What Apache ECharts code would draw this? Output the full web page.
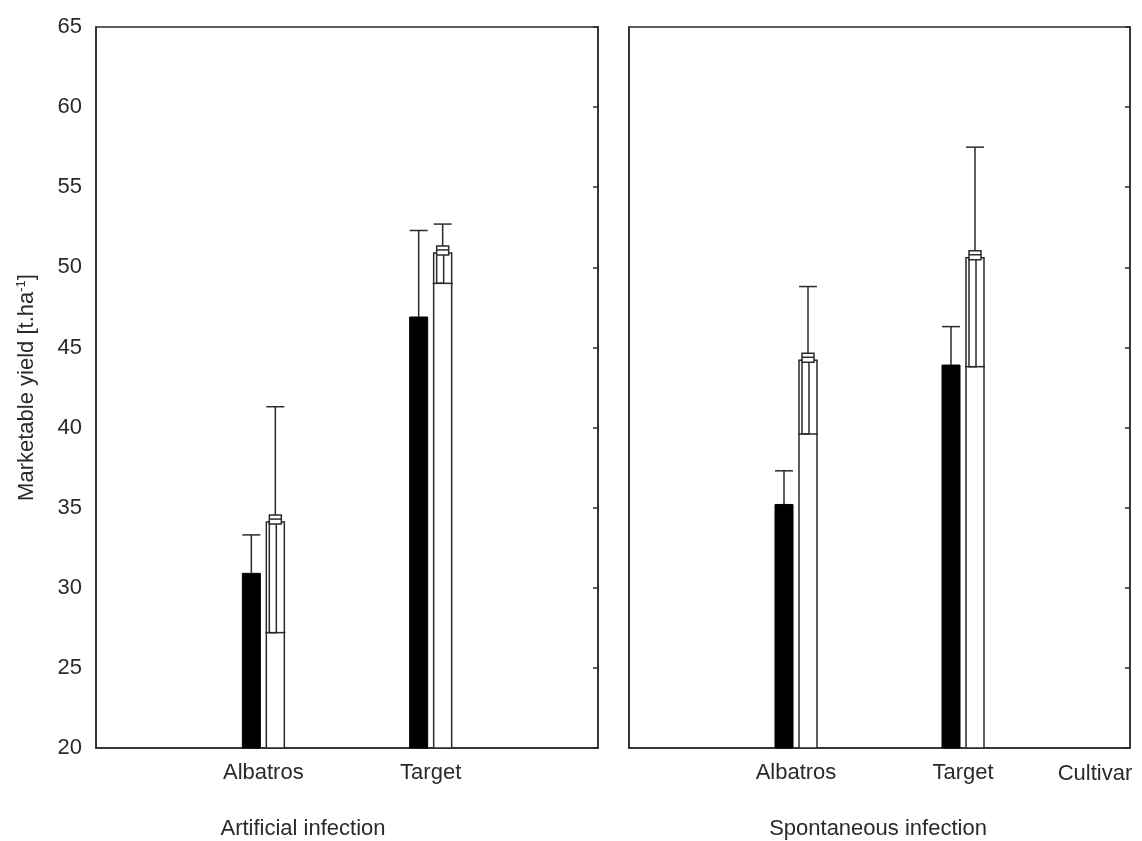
<!DOCTYPE html>
<html>
<head>
<meta charset="utf-8">
<script src="https://cdn.jsdelivr.net/npm/echarts@6/dist/echarts.min.js"></script>
<style>
  html, body { margin: 0; padding: 0; background: #fff; }
  #chart { width: 1142px; height: 841px; }
</style>
</head>
<body>
<div id="chart"></div>
<script>
// cultivars sit at x = 1 and x = 2 on a 0..3 axis in each panel
const cultivars = ['Albatros', 'Target']
const yTicks = [20, 25, 30, 35, 40, 45, 50, 55, 60, 65]

// Artificial infection
const artBlack = [30.9, 46.9]
const artBlackHigh = [33.3, 52.3]
const artWhite = [34.1, 50.9]
const artWhiteLow = [27.2, 49.0]
const artWhiteHigh = [41.3, 52.7]

// Spontaneous infection
const sponBlack = [35.2, 43.9]
const sponBlackHigh = [37.3, 46.3]
const sponWhite = [44.2, 50.6]
const sponWhiteLow = [39.6, 43.8]
const sponWhiteHigh = [48.8, 57.5]

const FONT = 'Liberation Sans, Arial, sans-serif'
const INK = '#2a2a2a'
const BAR_W = 18
const OFF = 12

function rows(black, blackHigh, white, low, high) {
  return cultivars.map((c, i) => [i + 1, black[i], blackHigh[i], white[i], low[i], high[i]])
}

function renderItem(params, api) {
  const x = api.value(0)
  const base = api.coord([x, yTicks[0]])
  const cx = base[0]
  const y0 = base[1]
  const yb = api.coord([x, api.value(1)])[1]
  const ybh = api.coord([x, api.value(2)])[1]
  const yw = api.coord([x, api.value(3)])[1]
  const ywl = api.coord([x, api.value(4)])[1]
  const ywh = api.coord([x, api.value(5)])[1]
  const line = { stroke: INK, lineWidth: 1.5, fill: null }

  const bx = cx - OFF - BAR_W / 2
  const bc = cx - OFF
  const wx = cx + OFF - BAR_W / 2
  const wc = cx + OFF

  return {
    type: 'group',
    children: [
      // black bar with upper whisker
      { type: 'rect', shape: { x: bx, y: yb, width: BAR_W, height: y0 - yb }, style: { fill: '#000', stroke: '#000', lineWidth: 1 } },
      { type: 'line', shape: { x1: bc, y1: yb, x2: bc, y2: ybh }, style: line },
      { type: 'line', shape: { x1: bx, y1: ybh, x2: bx + BAR_W, y2: ybh }, style: line },
      // white bar
      { type: 'rect', shape: { x: wx, y: yw, width: BAR_W, height: y0 - yw }, style: { fill: '#fff', stroke: INK, lineWidth: 1.5 } },
      // inner box from low value to mean
      { type: 'rect', shape: { x: wx + 3, y: yw, width: BAR_W / 2 - 2, height: ywl - yw }, style: line },
      { type: 'line', shape: { x1: wx - 1, y1: ywl, x2: wx + BAR_W + 1, y2: ywl }, style: line },
      // whisker and cap
      { type: 'line', shape: { x1: wc, y1: yw - 4, x2: wc, y2: ywh }, style: line },
      { type: 'line', shape: { x1: wx, y1: ywh, x2: wx + BAR_W, y2: ywh }, style: line },
      // mean marker
      { type: 'rect', shape: { x: wc - 6, y: yw - 7, width: 12, height: 9 }, style: { fill: '#fff', stroke: INK, lineWidth: 1.5 } },
      { type: 'line', shape: { x1: wc - 6, y1: yw - 3, x2: wc + 6, y2: yw - 3 }, style: line }
    ]
  }
}

function xAxis(gridIndex) {
  return {
    type: 'value', gridIndex, min: 0, max: 3, interval: 1,
    axisLine: { show: true, lineStyle: { color: INK, width: 1.5 } },
    axisTick: { show: false },
    splitLine: { show: false },
    axisLabel: {
      fontSize: 22, fontFamily: FONT, color: INK, margin: 14,
      formatter: v => cultivars[v - 1] || ''
    }
  }
}

function yAxis(gridIndex, position, showLabels, ticks) {
  return {
    type: 'value', gridIndex, position, min: 20, max: 65, interval: 5,
    axisLine: { show: true, lineStyle: { color: INK, width: 1.5 } },
    axisTick: { show: ticks, inside: true, length: 5, lineStyle: { color: INK, width: 1.5 } },
    splitLine: { show: false },
    axisLabel: { show: showLabels, fontSize: 22, fontFamily: FONT, color: INK, margin: 14 }
  }
}

const leftY = yAxis(0, 'left', true, false)
leftY.name = 'Marketable yield [t.ha{sup|-1}]'
leftY.nameLocation = 'middle'
leftY.nameGap = 58
leftY.nameTextStyle = {
  fontSize: 22, fontFamily: FONT, color: INK,
  rich: { sup: { fontSize: 13, fontFamily: FONT, color: INK, padding: [0, 0, 10, 0] } }
}

const chart = echarts.init(document.getElementById('chart'))
chart.setOption({
  backgroundColor: '#fff',
  animation: false,
  grid: [
    { left: 96, right: 544, top: 27, bottom: 93, show: true, borderColor: INK, borderWidth: 1.5 },
    { left: 629, right: 12, top: 27, bottom: 93, show: true, borderColor: INK, borderWidth: 1.5 }
  ],
  xAxis: [xAxis(0), xAxis(1)],
  yAxis: [
    leftY,
    yAxis(0, 'right', false, true),
    yAxis(1, 'left', false, false),
    yAxis(1, 'right', false, true)
  ],
  graphic: [
    { type: 'text', x: 303, y: 829, style: { text: 'Artificial infection', fontSize: 22, fontFamily: FONT, fill: INK, align: 'center', verticalAlign: 'middle' } },
    { type: 'text', x: 878, y: 829, style: { text: 'Spontaneous infection', fontSize: 22, fontFamily: FONT, fill: INK, align: 'center', verticalAlign: 'middle' } },
    { type: 'text', x: 1095, y: 774, style: { text: 'Cultivar', fontSize: 22, fontFamily: FONT, fill: INK, align: 'center', verticalAlign: 'middle' } }
  ],
  series: [
    {
      type: 'custom', xAxisIndex: 0, yAxisIndex: 0, renderItem,
      data: rows(artBlack, artBlackHigh, artWhite, artWhiteLow, artWhiteHigh)
    },
    {
      type: 'custom', xAxisIndex: 1, yAxisIndex: 2, renderItem,
      data: rows(sponBlack, sponBlackHigh, sponWhite, sponWhiteLow, sponWhiteHigh)
    }
  ]
})
</script>
</body>
</html>
